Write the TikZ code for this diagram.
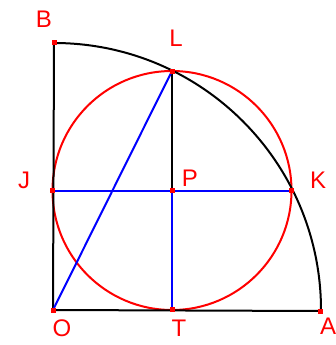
\documentclass[tikz,border=0pt]{standalone}
\usepackage{fontspec}
\setmainfont{Liberation Sans}
\begin{document}
\begin{tikzpicture}[x=1pt,y=-1pt,
  lbl/.style={text=red,font=\fontsize{24}{24}\selectfont,inner sep=0pt},
  pt/.style={fill=red,minimum size=5pt,inner sep=0pt,outer sep=0pt},
  blk/.style={line width=2pt,black},
  blu/.style={line width=2pt,blue},
  rd/.style={line width=2pt,red}]
\useasboundingbox (0,0) rectangle (335,345);
\coordinate (Pc) at (172,190.5);
% red circle
\draw[rd] (Pc) circle (119.5);
% black quarter
\draw[blk] (53,310) -- (54,43);
\draw[blk] (53,310) -- (320,311);
\draw[blk] (54,43) arc[start angle=-90,end angle=0,radius=267];
\node[pt] (O) at (53,310) {};
\node[pt] (B) at (54,43) {};
\node[pt] (A) at (320,311) {};
\node[pt] (L) at (172,71) {};
\node[pt] (J) at (52,190.5) {};
\node[pt] (P) at (172,190.5) {};
\node[pt] (K) at (291.5,190.5) {};
\node[pt] (T) at (172,309) {};
\draw[blk] (L.center) -- (P.center);
\draw[blu] (P.center) -- (T.center);
\draw[blu] (J.center) -- (K.center);
\draw[blu] (O.center) -- (L.center);
% redraw markers on top
\foreach \n in {O,B,A,L,J,P,K,T} \fill[red] (\n.south west) rectangle (\n.north east);
\node[lbl] (lB) at (44,19) {B};
\node[lbl] (lL) at (176,38) {L};
\node[lbl] (lJ) at (24,180) {J};
\node[lbl] (lP) at (190,178) {P};
\node[lbl] (lK) at (318,180) {K};
\node[lbl] (lO) at (62,328) {O};
\node[lbl] (lT) at (179,328) {T};
\node[lbl] (lA) at (328,326) {A};
\end{tikzpicture}
\end{document}
